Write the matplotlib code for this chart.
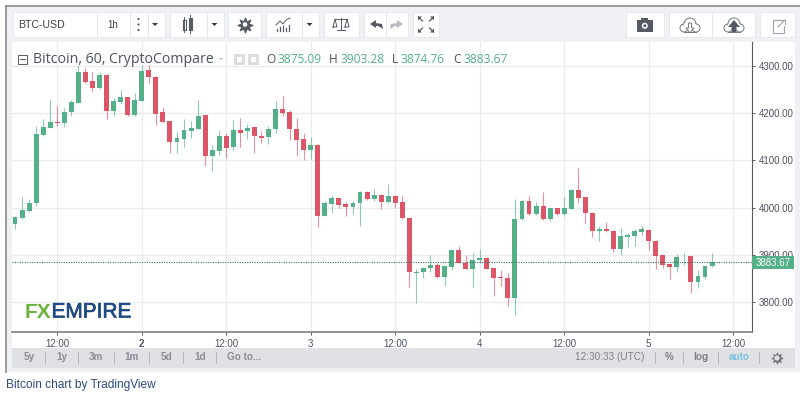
import matplotlib
matplotlib.use('Agg')
import matplotlib.pyplot as plt
import matplotlib.patheffects as pe
from matplotlib.patches import Rectangle, Circle, Polygon
import numpy as np

opens = [3964, 3978, 3993, 4009, 4154, 4169, 4182, 4180, 4202, 4222,
         4287, 4269, 4253, 4281, 4205, 4224, 4234, 4196, 4226, 4291,
         4277, 4202, 4183, 4138, 4145, 4162, 4167, 4196, 4109, 4120,
         4151, 4128, 4165, 4162, 4170, 4152, 4149, 4166, 4208, 4203,
         4166, 4145, 4123, 4133, 3982, 4007, 4020, 4007, 4001, 4010,
         4033, 4017, 4027, 4011, 4025, 4011, 3978, 3862, 3863, 3872,
         3878, 3852, 3873, 3909, 3883, 3870, 3888, 3893, 3871, 3852,
         3851, 3808, 3975, 4014, 3986, 4004, 3975, 3998, 3986, 3997,
         4038, 4022, 3989, 3950, 3955, 3951, 3911, 3938, 3940, 3948,
         3953, 3930, 3900, 3880, 3873, 3894, 3897, 3841, 3853, 3875.09]
closes = [3979, 3994, 4010, 4156, 4170, 4181, 4179, 4203, 4223, 4287,
          4267, 4254, 4281, 4205, 4226, 4234, 4196, 4228, 4290, 4276,
          4198, 4182, 4138, 4147, 4164, 4169, 4194, 4109, 4122, 4151,
          4127, 4165, 4159, 4169, 4151, 4148, 4166, 4208, 4201, 4166,
          4143, 4122, 4133, 3982, 4009, 4020, 4005, 4002, 4010, 4033,
          4017, 4027, 4011, 4025, 4010, 3977, 3863, 3864, 3872, 3878,
          3852, 3875, 3909, 3883, 3870, 3889, 3893, 3870, 3850, 3850,
          3808, 3976, 4014, 3986, 4003, 3975, 3998, 3986, 3998, 4038,
          4020, 3988, 3950, 3955, 3950, 3911, 3940, 3942, 3950, 3954,
          3928, 3898, 3878, 3873, 3894, 3896, 3841, 3854, 3875, 3883.67]
highs = [3982, 4023, 4018, 4173, 4188, 4229, 4215, 4210, 4228, 4302,
         4296, 4287, 4287, 4283, 4232, 4249, 4235, 4242, 4302, 4302,
         4278, 4214, 4184, 4161, 4187, 4184, 4228, 4197, 4133, 4164,
         4158, 4186, 4189, 4178, 4172, 4163, 4173, 4226, 4236, 4207,
         4189, 4159, 4150, 4134, 4014, 4027, 4021, 4012, 4014, 4034,
         4034, 4040, 4028, 4049, 4026, 4025, 3979, 3869, 3874, 3899,
         3882, 3876, 3910, 3919, 3899, 3904, 3912, 3894, 3872, 3867,
         3862, 4017, 4015, 4025, 4012, 4032, 3999, 3999, 4023, 4039,
         4083, 4023, 3990, 3961, 3970, 3952, 3956, 3947, 3954, 3963,
         3954, 3931, 3901, 3881, 3901, 3903, 3898, 3867, 3876, 3903.28]
lows = [3954, 3976, 3991, 4003, 4152, 4168, 4173, 4170, 4194, 4221,
        4263, 4248, 4252, 4187, 4194, 4219, 4195, 4195, 4225, 4263,
        4175, 4181, 4115, 4115, 4129, 4148, 4166, 4088, 4078, 4111,
        4105, 4122, 4129, 4145, 4116, 4136, 4135, 4159, 4194, 4143,
        4109, 4101, 4102, 3959, 3981, 3988, 4000, 3981, 3986, 3961,
        4016, 4014, 3996, 4010, 4000, 3976, 3832, 3797, 3850, 3864,
        3851, 3834, 3868, 3882, 3869, 3832, 3883, 3869, 3813, 3834,
        3792, 3771, 3974, 3985, 3985, 3974, 3972, 3985, 3981, 3996,
        4009, 3967, 3938, 3930, 3949, 3906, 3899, 3917, 3919, 3940,
        3910, 3869, 3871, 3848, 3864, 3878, 3819, 3830, 3848, 3874.76]

price_ticks = [3800, 3900, 4000, 4100, 4200, 4300]
time_ticks = [6, 18, 30, 42, 54, 66, 78, 90, 102]
time_labels = ['12:00', '2', '12:00', '3', '12:00', '4', '12:00', '5', '12:00']
last_close = 3883.67

GREEN = '#53b088'
RED = '#dc5668'
W, H = 800, 396

fig = plt.figure(figsize=(W / 100, H / 100), dpi=100, facecolor='white')
plt.rcParams['font.family'] = ['Liberation Sans', 'DejaVu Sans']

# pixel canvas for the widget frame, under the chart
bg = fig.add_axes([0, 0, 1, 1], zorder=0)
bg.set_xlim(0, W)
bg.set_ylim(H, 0)
bg.axis('off')
bg.add_patch(Rectangle((6, 6), 794, 366, fc='#f0f1f5', ec='none'))
bg.add_patch(Rectangle((12, 42), 783, 306, fc='white', ec='none'))
bg.add_patch(Rectangle((12, 348), 783, 20, fc='#e0e1e5', ec='none'))
bg.plot([6, 800], [6, 6], color='#8b8b8b', lw=1.2)
bg.plot([6, 6], [6, 372], color='#8b8b8b', lw=1.2)

buttons = [(13, 165), (170, 224), (228, 261), (266, 319), (324, 359), (364, 408),
           (413, 439), (626, 664), (669, 755), (760, 795)]
for x0, x1 in buttons:
    bg.add_patch(Rectangle((x0, 12), x1 - x0, 25, fc='white', ec='#e6e7ea', lw=0.6))
for x in [97, 130, 148, 207, 302, 386, 712]:
    bg.plot([x, x], [12, 37], color='#e6e7ea', lw=0.7)

# chart
ax = fig.add_axes([12 / W, 1 - 332 / H, 739.5 / W, 290 / H], zorder=1)
ax.patch.set_alpha(0)
ax.set_xlim(-0.43, 104.6)
ax.set_ylim(3736, 4351)
ax.set_xticks(time_ticks)
ax.set_xticklabels(time_labels)
ax.set_yticks(price_ticks)
ax.set_yticklabels(['%.2f' % p for p in price_ticks])
ax.yaxis.tick_right()
ax.grid(True, color='#eaebee', lw=0.9)
ax.set_axisbelow(True)
ax.spines['top'].set_visible(False)
ax.spines['left'].set_visible(False)
ax.spines['right'].set_color('#5a5d66')
ax.spines['bottom'].set_color('#7d7f85')
ax.spines['bottom'].set_linewidth(1.2)
ax.tick_params(axis='both', length=2.5, width=0.7, color='#5a5d66', labelsize=7, labelcolor='#4c525e', pad=2.5)
for lab in ax.get_xticklabels():
    if lab.get_text() == '2':
        lab.set_fontweight('bold')

idx = np.arange(len(opens))
o = np.array(opens)
c = np.array(closes)
colors = [GREEN if b >= a else RED for a, b in zip(o, c)]
ax.vlines(idx, lows, highs, colors=colors, lw=0.8, alpha=0.65, zorder=3)
ax.bar(idx, np.maximum(np.abs(c - o), 1.5), bottom=np.minimum(o, c), width=0.7, color=colors, zorder=4)
ax.axhline(last_close, color='#3f6f5e', lw=0.8, ls=(0, (1, 1.2)), zorder=5)

# everything that sits on top, again in pixels
top = fig.add_axes([0, 0, 1, 1], zorder=2)
top.set_xlim(0, W)
top.set_ylim(H, 0)
top.axis('off')
top.patch.set_alpha(0)

top.add_patch(Rectangle((751.7, 256), 42.5, 13.4, fc=GREEN, ec='none'))
top.text(773, 263, '%.2f' % last_close, color='white', fontsize=7, ha='center', va='center')

GREY = '#555a63'
top.text(18, 25, 'BTC-USD', color='#3c4048', fontsize=7.6, ha='left', va='center')
top.text(113, 24.5, '1h', color='#3c4048', fontsize=7, ha='center', va='center')
for y in [19, 24.5, 30]:
    top.add_patch(Circle((138.5, y), 1.1, fc=GREY, ec='none'))
for x in [155, 214.5, 309.5]:
    top.add_patch(Polygon([(x - 3, 23), (x + 3, 23), (x, 26)], fc='#333740', ec='none'))

# candle icon
top.plot([184, 184], [17, 32], color=GREY, lw=0.7)
top.plot([190, 190], [15, 33], color=GREY, lw=0.7)
top.add_patch(Rectangle((182.5, 20), 3, 10, fc='white', ec=GREY, lw=0.8))
top.add_patch(Rectangle((188.5, 18), 3, 12, fc=GREY, ec=GREY, lw=0.8))

# gear icons
top.scatter([245], [24.5], s=110, marker=(8, 1), color=GREY)
top.add_patch(Circle((245, 24.5), 2.3, fc='white', ec='none'))
top.scatter([777], [358], s=55, marker=(8, 1), color='#70747c')
top.add_patch(Circle((777, 358), 2.6, fc='#e0e1e5', ec='none'))

# indicator icon
for x, y in zip([277, 280, 283, 286, 289], [29, 27, 26, 28, 25]):
    top.plot([x, x], [y, 31], color=GREY, lw=0.9)
top.plot([276, 280, 283, 286, 290], [25, 21, 24, 20, 18], color=GREY, lw=0.7)

# scales
top.plot([341, 341], [18, 29], color=GREY, lw=0.7)
top.plot([335, 347], [19, 19], color=GREY, lw=0.7)
top.plot([337, 345], [30, 30], color=GREY, lw=0.7)
top.plot([333, 335, 337, 333], [27, 19, 27, 27], color=GREY, lw=0.7)
top.plot([345, 347, 349, 345], [27, 19, 27, 27], color=GREY, lw=0.7)

# undo and redo
top.add_patch(Polygon([(370, 24), (376, 20), (376, 23), (382, 24), (383, 29), (378, 26), (376, 26), (376, 28)], fc=GREY, ec='none'))
top.add_patch(Polygon([(403, 24), (397, 20), (397, 23), (391, 24), (390, 29), (395, 26), (397, 26), (397, 28)], fc='#b9bbc0', ec='none'))

# fullscreen arrows
for sx, sy in [(-1, -1), (1, -1), (-1, 1), (1, 1)]:
    cx, cy = 426 + 5.5 * sx, 24.5 + 5.5 * sy
    top.add_patch(Polygon([(cx + 2.5 * sx, cy + 2.5 * sy), (cx - 1.5 * sx, cy + 2.5 * sy), (cx + 2.5 * sx, cy - 1.5 * sy)], fc=GREY, ec='none'))
    top.plot([cx + 2 * sx, cx - 2 * sx], [cy + 2 * sy, cy - 2 * sy], color=GREY, lw=0.9)

# camera
top.add_patch(Rectangle((636.5, 20), 16.5, 11.5, fc=GREY, ec='none'))
top.add_patch(Rectangle((641, 18), 7, 3, fc=GREY, ec='none'))
top.add_patch(Circle((644.8, 25.8), 3, fc='white', ec='none'))
top.add_patch(Circle((644.8, 25.8), 1.5, fc=GREY, ec='none'))

# clouds
for cx in [690, 734]:
    for dx, dy, r in [(-6, 2, 4), (0, -2, 6), (6, 2, 4)]:
        top.add_patch(Circle((cx + dx, 26 + dy), r, fc='white', ec='#74787f', lw=0.7))
    top.add_patch(Rectangle((cx - 6, 24), 12, 6, fc='white', ec='none'))
    top.plot([cx - 6, cx + 6], [32, 32], color='#74787f', lw=0.7)
top.add_patch(Polygon([(690, 33), (686, 28), (688.5, 28), (688.5, 23), (691.5, 23), (691.5, 28), (694, 28)], fc='white', ec='#74787f', lw=0.7))
top.add_patch(Polygon([(734, 20), (728, 27), (731.5, 27), (731.5, 33), (736.5, 33), (736.5, 27), (740, 27)], fc=GREY, ec='none'))

# open-in-window icon
top.plot([784, 773, 773, 784, 784], [20, 20, 33, 33, 26], color='#a0a3a9', lw=0.8)
top.plot([778, 785], [27, 20], color='#a0a3a9', lw=0.8)
top.plot([781, 785, 785], [19.5, 19.5, 23.5], color='#a0a3a9', lw=0.8)

# legend line
top.add_patch(Rectangle((17.5, 55), 9, 8.5, fc='white', ec='#555a63', lw=0.7))
top.plot([19.5, 24.5], [59.3, 59.3], color='#555a63', lw=0.7)
top.text(33, 59.5, 'Bitcoin, 60, CryptoCompare', color='#4c525e', fontsize=10.2, family='Open Sans', ha='left', va='center')
top.add_patch(Polygon([(218.5, 58), (223.5, 58), (221, 60.5)], fc='#c9cbd0', ec='none'))
for x in [234, 248]:
    top.add_patch(Rectangle((x, 54), 11, 11, fc='#dcdde0', ec='none'))
    top.add_patch(Rectangle((x + 3, 57), 5, 5, fc='white', ec='none'))

legend_pairs = [('O', 266.5, '3875.09', 277), ('H', 329, '3903.28', 340), ('L', 392, '3874.76', 400), ('C', 453, '3883.67', 463)]
for name, x0, val, x1 in legend_pairs:
    top.text(x0, 59.5, name, color='#4c525e', fontsize=8.6, family='Open Sans', ha='left', va='center')
    top.text(x1, 59.5, val, color='#53b087', fontsize=8.6, family='Open Sans', ha='left', va='center')

# logo
top.text(25, 312, 'FX', color='#6cb33f', fontsize=15, fontweight='bold', ha='left', va='center')
logo = top.text(51.5, 312, 'EMPIRE', color='#1f4a82', fontsize=15, ha='left', va='center')
logo.set_path_effects([pe.withStroke(linewidth=0.5, foreground='#1f4a82')])

# bottom bar
bar_labels = [('5y', 29), ('1y', 61.5), ('3m', 96), ('1m', 132), ('5d', 166.5), ('1d', 200), ('Go to...', 244)]
for s, x in bar_labels:
    top.text(x, 357.5, s, color='#8a8d94', fontsize=7.2, fontweight='bold', ha='center', va='center')
for x in [44.5, 78, 114, 149, 182.7, 216, 654.7, 683, 718, 759]:
    top.plot([x, x], [352, 363], color='#b4b6bb', lw=0.7)
top.text(610, 357.5, '12:30:33 (UTC)', color='#7d8087', fontsize=7.2, ha='center', va='center')
top.text(669, 357.5, '%', color='#7d8087', fontsize=7, fontweight='bold', ha='center', va='center')
top.text(700.5, 357.5, 'log', color='#7d8087', fontsize=7.2, fontweight='bold', ha='center', va='center')
top.text(739, 357.5, 'auto', color='#7cc0de', fontsize=7.2, fontweight='bold', ha='center', va='center')

top.text(6, 385, 'Bitcoin chart by TradingView', color='#2b4d80', fontsize=8.6, ha='left', va='center')

fig.savefig('out.png', dpi=100)
